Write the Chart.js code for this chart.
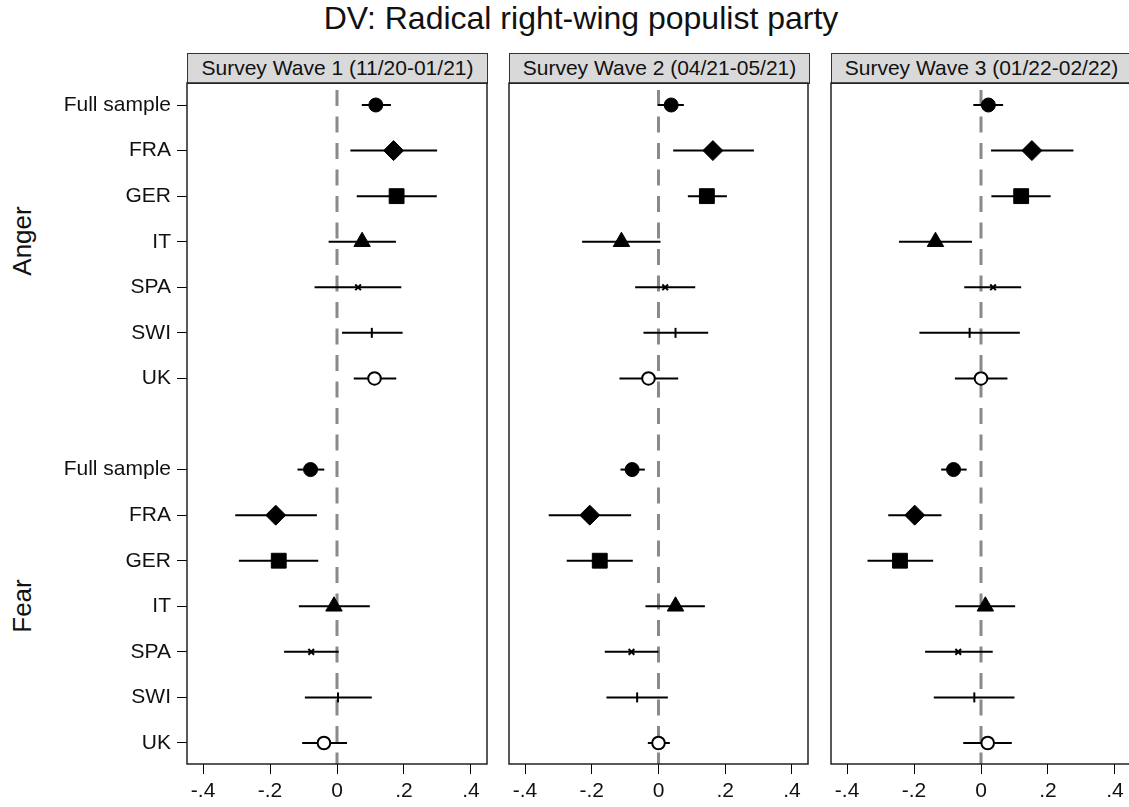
<!DOCTYPE html>
<html>
<head>
<meta charset="utf-8">
<title>DV: Radical right-wing populist party</title>
<script src="https://cdn.jsdelivr.net/npm/chart.js@4.4.1/dist/chart.umd.min.js"></script>
<style>
  body {
    margin: 0;
    width: 1129px;
    height: 807px;
    overflow: hidden;
    position: relative;
    background: #fff;
    color: #111;
    font-family: 'Liberation Sans', Arial, sans-serif;
  }
  .title {
    position: absolute;
    top: 0;
    left: 0;
    width: 1162px;
    text-align: center;
    font-size: 32px;
  }
  .strip {
    position: absolute;
    top: 53px;
    height: 31px;
    width: 301px;
    box-sizing: border-box;
    background: #d9d9d9;
    border: 1.5px solid #333;
    font-size: 21px;
    line-height: 28px;
    text-align: center;
  }
  .group {
    position: absolute;
    width: 120px;
    height: 30px;
    line-height: 30px;
    text-align: center;
    font-size: 26px;
    transform: rotate(-90deg);
  }
  .panel {
    position: absolute;
    top: 80px;
    height: 727px;
  }
</style>
</head>
<body>
<div class="title" id="title"></div>
<div class="strip" style="left:187px" id="strip0"></div>
<div class="strip" style="left:509px" id="strip1"></div>
<div class="strip" style="left:831px" id="strip2"></div>
<div class="group" style="left:-38px; top:226px" id="group0"></div>
<div class="group" style="left:-38px; top:591px" id="group1"></div>
<div class="panel" style="left:0; width:490px"><canvas id="wave0"></canvas></div>
<div class="panel" style="left:506px; width:306px"><canvas id="wave1"></canvas></div>
<div class="panel" style="left:828px; width:306px"><canvas id="wave2"></canvas></div>

<script>
const chartTitle = 'DV: Radical right-wing populist party';
const rowLabels = ['Full sample', 'FRA', 'GER', 'IT', 'SPA', 'SWI', 'UK'];
const groupLabels = ['Anger', 'Fear'];
const waveTitles = [
  'Survey Wave 1 (11/20-01/21)',
  'Survey Wave 2 (04/21-05/21)',
  'Survey Wave 3 (01/22-02/22)'
];
const xTickValues = [-0.4, -0.2, 0, 0.2, 0.4];
const xTickLabels = ['-.4', '-.2', '0', '.2', '.4'];

// coefficients: 7 anger rows, then 7 fear rows
const wave1Est = [0.116, 0.169, 0.178, 0.075, 0.063, 0.104, 0.112,
                  -0.079, -0.183, -0.174, -0.009, -0.077, 0.003, -0.039];
const wave1Lo  = [0.074, 0.040, 0.059, -0.025, -0.067, 0.015, 0.050,
                  -0.118, -0.304, -0.293, -0.114, -0.158, -0.096, -0.104];
const wave1Hi  = [0.161, 0.299, 0.298, 0.176, 0.192, 0.196, 0.177,
                  -0.038, -0.060, -0.056, 0.098, 0.005, 0.104, 0.030];

const wave2Est = [0.038, 0.163, 0.145, -0.111, 0.020, 0.051, -0.030,
                  -0.079, -0.206, -0.176, 0.051, -0.081, -0.064, 0.000];
const wave2Lo  = [-0.002, 0.044, 0.088, -0.229, -0.070, -0.045, -0.117,
                  -0.114, -0.329, -0.275, -0.039, -0.161, -0.156, -0.032];
const wave2Hi  = [0.076, 0.286, 0.205, 0.006, 0.110, 0.149, 0.059,
                  -0.041, -0.082, -0.077, 0.139, 0.000, 0.028, 0.034];

const wave3Est = [0.022, 0.152, 0.120, -0.136, 0.036, -0.034, 0.000,
                  -0.082, -0.198, -0.242, 0.013, -0.068, -0.020, 0.020];
const wave3Lo  = [-0.023, 0.030, 0.031, -0.245, -0.050, -0.184, -0.078,
                  -0.119, -0.277, -0.339, -0.077, -0.167, -0.141, -0.053];
const wave3Hi  = [0.066, 0.276, 0.208, -0.027, 0.120, 0.116, 0.079,
                  -0.043, -0.118, -0.143, 0.102, 0.035, 0.100, 0.092];

// one marker per country row
const markerStyle = ['circle', 'rectRot', 'rect', 'triangle', 'crossRot', 'line', 'circle'];
const markerSize  = [7, 10, 10.5, 9.5, 4, 5, 6.3];
const markerFill  = ['#000', '#000', '#000', '#000', '#000', '#000', '#fff'];
const markerLine  = [1, 1, 1, 1, 2, 2, 2];

document.getElementById('title').textContent = chartTitle;
waveTitles.forEach((t, i) => { document.getElementById('strip' + i).textContent = t; });
groupLabels.forEach((t, i) => { document.getElementById('group' + i).textContent = t; });

Chart.defaults.font.family = "'Liberation Sans', Arial, sans-serif";
Chart.defaults.color = '#111';

// anger rows sit at 0..6, fear rows at 8..14 with one empty row between
const rowPositions = [];
groupLabels.forEach((g, gi) => rowLabels.forEach((r, ri) => rowPositions.push(gi * 8 + ri)));

function buildPoints(est, lo, hi) {
  return est.map((v, k) => ({ x: v, y: rowPositions[k], lo: lo[k], hi: hi[k] }));
}

// keep the plot box where we put it: no automatic label padding
function fixSize(prop, size) {
  return s => {
    s[prop] = size;
    s.paddingLeft = s.paddingRight = s.paddingTop = s.paddingBottom = 0;
  };
}

// zero line, confidence intervals and the panel frame
const ciBars = {
  id: 'ciBars',
  beforeDatasetsDraw(chart) {
    const { ctx, chartArea, scales: { x, y } } = chart;
    ctx.save();
    const x0 = x.getPixelForValue(0);
    ctx.strokeStyle = '#8a8a8a';
    ctx.lineWidth = 3;
    ctx.setLineDash([16, 10.5]);
    ctx.beginPath();
    ctx.moveTo(x0, chartArea.top + 7);
    ctx.lineTo(x0, chartArea.bottom);
    ctx.stroke();
    ctx.setLineDash([]);
    ctx.strokeStyle = '#000';
    ctx.lineWidth = 2;
    chart.data.datasets[0].data.forEach(p => {
      const py = y.getPixelForValue(p.y);
      ctx.beginPath();
      ctx.moveTo(x.getPixelForValue(p.lo), py);
      ctx.lineTo(x.getPixelForValue(p.hi), py);
      ctx.stroke();
    });
    ctx.restore();
  },
  afterDraw(chart) {
    const { ctx, chartArea } = chart;
    ctx.save();
    ctx.strokeStyle = '#222';
    ctx.lineWidth = 1.5;
    ctx.strokeRect(chartArea.left, chartArea.top, chartArea.right - chartArea.left, chartArea.bottom - chartArea.top);
    ctx.restore();
  }
};

function makePanel(id, points, idx) {
  const rowIdx = points.map((p, k) => k % 7);
  const padding = idx === 0 ? { left: 0, right: 3, top: 3, bottom: 0 }
                : idx === 1 ? { left: 3, right: 4, top: 3, bottom: 0 }
                : { left: 3, right: 3, top: 3, bottom: 0 };
  return new Chart(document.getElementById(id), {
    type: 'scatter',
    data: {
      datasets: [{
        data: points,
        pointStyle: rowIdx.map(r => markerStyle[r]),
        pointRadius: rowIdx.map(r => markerSize[r]),
        pointBackgroundColor: rowIdx.map(r => markerFill[r]),
        pointBorderColor: '#000',
        pointBorderWidth: rowIdx.map(r => markerLine[r]),
        pointRotation: rowIdx.map(r => (r === 5 ? 90 : 0))
      }]
    },
    options: {
      responsive: true,
      maintainAspectRatio: false,
      animation: false,
      events: [],
      layout: { padding: padding, autoPadding: false },
      plugins: { legend: { display: false }, tooltip: { enabled: false } },
      scales: {
        x: {
          type: 'linear',
          min: -0.448,
          max: 0.448,
          afterBuildTicks: s => { s.ticks = xTickValues.map(v => ({ value: v })); },
          afterFit: fixSize('height', 43),
          border: { display: false },
          grid: { drawOnChartArea: false, drawTicks: true, tickLength: 10, color: '#000', lineWidth: 1 },
          ticks: {
            font: { size: 21 },
            color: '#111',
            padding: 5,
            maxRotation: 0,
            autoSkip: false,
            callback: (v, i) => xTickLabels[i]
          }
        },
        y: {
          type: 'linear',
          reverse: true,
          min: -0.483,
          max: 14.461,
          display: idx === 0,
          afterBuildTicks: s => { s.ticks = rowPositions.map(v => ({ value: v })); },
          afterFit: fixSize('width', idx === 0 ? 187 : 0),
          border: { display: false },
          grid: { drawOnChartArea: false, drawTicks: true, tickLength: 10, color: '#000', lineWidth: 1 },
          ticks: {
            font: { size: 21 },
            color: '#111',
            padding: 6,
            autoSkip: false,
            callback: (v, i) => rowLabels[i % 7]
          }
        }
      }
    },
    plugins: [ciBars]
  });
}

makePanel('wave0', buildPoints(wave1Est, wave1Lo, wave1Hi), 0);
makePanel('wave1', buildPoints(wave2Est, wave2Lo, wave2Hi), 1);
makePanel('wave2', buildPoints(wave3Est, wave3Lo, wave3Hi), 2);
</script>
</body>
</html>
